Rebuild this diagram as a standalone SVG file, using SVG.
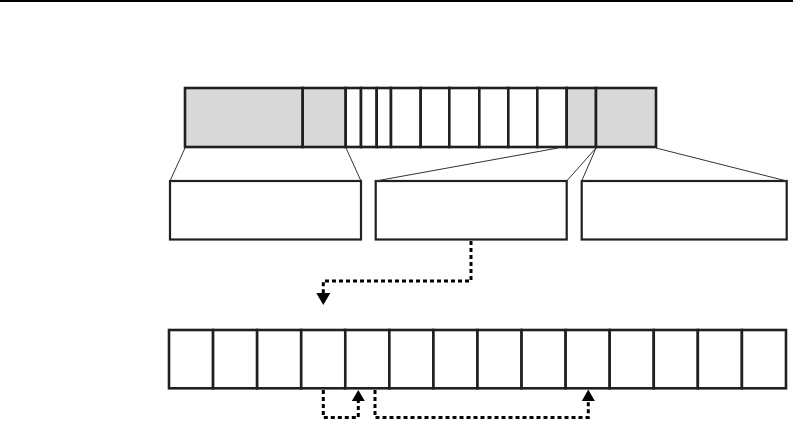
<svg xmlns="http://www.w3.org/2000/svg" width="793" height="421" viewBox="0 0 793 421">
<defs>
<style>
.cell{fill:#fff;stroke:#231f20;stroke-width:2.6}
.gray{fill:#d9d9d9;stroke:#231f20;stroke-width:2.6}
.box{fill:#fff;stroke:#231f20;stroke-width:2.2}
.thin{stroke:#333;stroke-width:1;fill:none}
.dot{stroke:#000;stroke-width:3;stroke-dasharray:4 3;fill:none}
.head{fill:#000}
</style>
</defs>
<rect x="0" y="0" width="793" height="421" fill="#fff"/>
<line x1="0" y1="1" x2="793" y2="1" stroke="#000" stroke-width="2"/>
<g id="top-bar">
<rect class="gray" x="185" y="88" width="117.7" height="59"/>
<rect class="gray" x="302.7" y="88" width="43" height="59"/>
<rect class="cell" x="345.7" y="88" width="15.3" height="59"/>
<rect class="cell" x="361" y="88" width="15.7" height="59"/>
<rect class="cell" x="376.7" y="88" width="14.3" height="59"/>
<rect class="cell" x="391" y="88" width="29.7" height="59"/>
<rect class="cell" x="420.7" y="88" width="28.6" height="59"/>
<rect class="cell" x="449.3" y="88" width="30" height="59"/>
<rect class="cell" x="479.3" y="88" width="29" height="59"/>
<rect class="cell" x="508.3" y="88" width="29" height="59"/>
<rect class="cell" x="537.3" y="88" width="29.4" height="59"/>
<rect class="gray" x="566.7" y="88" width="29.3" height="59"/>
<rect class="gray" x="596" y="88" width="60" height="59"/>
</g>
<g id="box-left"><rect class="box" x="170" y="181" width="191" height="58.5"/></g>
<g id="box-middle"><rect class="box" x="375.7" y="181" width="191" height="58.5"/></g>
<g id="box-right"><rect class="box" x="581.7" y="181" width="205" height="58.5"/></g>
<g id="bottom-row">
<rect class="cell" x="169" y="330" width="44.07" height="58.3"/>
<rect class="cell" x="213.07" y="330" width="44.07" height="58.3"/>
<rect class="cell" x="257.14" y="330" width="44.07" height="58.3"/>
<rect class="cell" x="301.21" y="330" width="44.07" height="58.3"/>
<rect class="cell" x="345.28" y="330" width="44.07" height="58.3"/>
<rect class="cell" x="389.35" y="330" width="44.07" height="58.3"/>
<rect class="cell" x="433.42" y="330" width="44.07" height="58.3"/>
<rect class="cell" x="477.49" y="330" width="44.07" height="58.3"/>
<rect class="cell" x="521.56" y="330" width="44.07" height="58.3"/>
<rect class="cell" x="565.63" y="330" width="44.07" height="58.3"/>
<rect class="cell" x="609.7" y="330" width="44.07" height="58.3"/>
<rect class="cell" x="653.77" y="330" width="44.07" height="58.3"/>
<rect class="cell" x="697.84" y="330" width="44.07" height="58.3"/>
<rect class="cell" x="741.91" y="330" width="44.07" height="58.3"/>
</g>
<g id="connectors">
<line class="thin" x1="185" y1="148" x2="170" y2="181"/>
<line class="thin" x1="346" y1="148" x2="361" y2="181"/>
<line class="thin" x1="558" y1="148" x2="375.7" y2="181"/>
<line class="thin" x1="596" y1="148" x2="566.7" y2="181"/>
<line class="thin" x1="596" y1="148" x2="581.7" y2="181"/>
<line class="thin" x1="656" y1="148" x2="786.7" y2="181"/>
<path class="dot" d="M471,241 V281 H323.3 V293"/>
<polygon class="head" points="316.3,293 330.3,293 323.3,305"/>
<path class="dot" d="M323.3,390 V417.5 H358.3 V401"/>
<polygon class="head" points="351.8,401 364.8,401 358.3,390"/>
<path class="dot" d="M375,390 V417.5 H588.3 V401"/>
<polygon class="head" points="581.8,401 594.8,401 588.3,389.5"/>
</g>
</svg>
